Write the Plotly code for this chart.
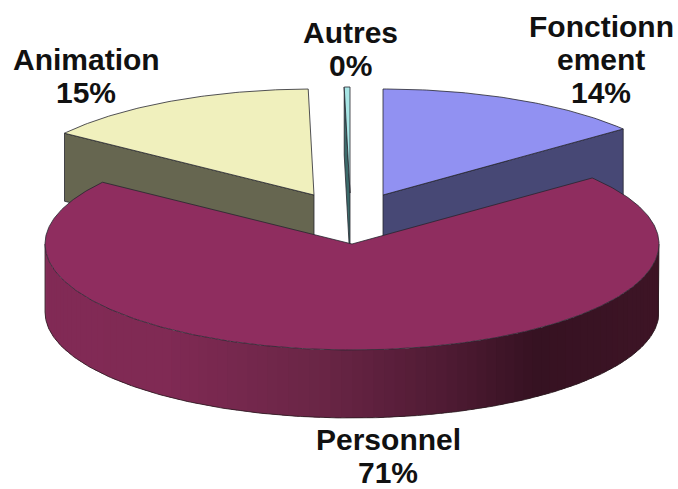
import numpy as np
import plotly.graph_objects as go

# --- data ---
categories = ["Fonctionnement", "Personnel", "Animation", "Autres"]
values = [14.3, 70.6, 14.8, 0.3]
label_lines = [["Fonctionn", "ement"], ["Personnel"], ["Animation"], ["Autres"]]

# --- styles / layout ---
W, H = 678, 489
RX, RY, DEPTH = 307, 106, 68
centers = {"Fonctionnement": (383, 195), "Personnel": (352, 244),
           "Animation": (314, 195), "Autres": (350, 193)}
face_col = {"Fonctionnement": "#9191f2", "Personnel": "#8f2d5f",
            "Animation": "#f0f0bd", "Autres": "#a8e6e6"}
cut_col = {"Fonctionnement": "#474875", "Personnel": "#8f2d5f",
           "Animation": "#666650", "Autres": "#3c6a6a"}
label_pos = {"Fonctionnement": (601, 26), "Personnel": (388, 439),
             "Animation": (86, 59), "Autres": (350, 32)}
LINE_H = 33
FONT = dict(family="Liberation Sans, Arial, sans-serif", size=30, color="#111111", weight="bold")
EDGE = dict(color="#26262e", width=0.8)
# gradient stops of the outer rim: (fraction across the width, rgb)
rim_stops = [(0.0, (130, 42, 86)), (0.2, (128, 42, 84)), (0.45, (106, 38, 70)),
             (0.65, (80, 27, 52)), (0.8, (54, 18, 34)), (1.0, (62, 21, 38))]

fig = go.Figure()


def pt(cat, deg, drop=0):
    cx, cy = centers[cat]
    t = np.radians(deg)
    return cx + RX * np.sin(t), cy - RY * np.cos(t) + drop


def arc(cat, a0, a1, drop=0, n=None):
    n = n or max(2, int(abs(a1 - a0) * 1.5))
    return pt(cat, np.linspace(a0, a1, n), drop)


def poly(x, y, fill, line=EDGE):
    x, y = list(x), list(y)
    fig.add_trace(go.Scatter(x=x + x[:1], y=y + y[:1], mode="lines", fill="toself",
                             fillcolor=fill, line=line, hoverinfo="skip"))


def rim_colour(f):
    xs = [s[0] for s in rim_stops]
    rgb = [np.interp(f, xs, [s[1][i] for s in rim_stops]) for i in range(3)]
    return "rgb(%d,%d,%d)" % tuple(rgb)


# slice angular spans, clockwise from the top
edges = np.concatenate([[0], np.cumsum(values)]) * 3.6
span = {c: (edges[i], edges[i + 1]) for i, c in enumerate(categories)}


def wedge(cat):
    a0, a1 = span[cat]
    cx, cy = centers[cat]
    ax, ay = arc(cat, a0, a1)
    poly(np.r_[cx, ax], np.r_[cy, ay], face_col[cat])


def cut_face(cat, deg):
    ex, ey = pt(cat, deg)
    cx, cy = centers[cat]
    poly([cx, ex, ex, cx], [cy, ey, ey + DEPTH, cy + DEPTH], cut_col[cat])


c = "Fonctionnement"
cut_face(c, span[c][1])
wedge(c)

c = "Animation"
cut_face(c, span[c][0])
wedge(c)

c = "Autres"
cut_face(c, span[c][0])
wedge(c)

# Personnel: gradient rim from overlapping strips, outline, then top
c = "Personnel"
a0, a1 = max(span[c][0], 90), min(span[c][1], 270)
steps = np.linspace(a0, a1, 91)
step = steps[1] - steps[0]
for s0 in steps[:-1]:
    ax, ay = arc(c, s0, min(s0 + 1.6 * step, a1), 0, 6)
    bx, by = arc(c, min(s0 + 1.6 * step, a1), s0, DEPTH, 6)
    f = (pt(c, s0 + step / 2)[0] - (centers[c][0] - RX)) / (2 * RX)
    # rim runs right to left as the angle grows; later strips cover earlier overlaps
    poly(np.r_[ax, bx], np.r_[ay, by], rim_colour(f), dict(color="rgba(0,0,0,0)", width=0))
ox, oy = arc(c, a0, a1, DEPTH)
tx0, ty0 = pt(c, a0)
tx1, ty1 = pt(c, a1)
fig.add_trace(go.Scatter(x=np.r_[tx0, ox, tx1], y=np.r_[ty0, oy, ty1], mode="lines",
                         line=dict(color="#2a1a20", width=0.8), hoverinfo="skip"))
wedge(c)

# labels
for cat, val, lines in zip(categories, values, label_lines):
    lx, ly = label_pos[cat]
    for i, txt in enumerate(lines + [f"{round(val)}%"]):
        fig.add_annotation(x=lx, y=ly + i * LINE_H, text=txt, showarrow=False,
                           font=FONT, xanchor="center", yanchor="middle")

fig.update_layout(width=W, height=H, margin=dict(l=0, r=0, t=0, b=0), showlegend=False,
                  paper_bgcolor="white", plot_bgcolor="white",
                  xaxis=dict(range=[0, W], visible=False, fixedrange=True),
                  yaxis=dict(range=[H, 0], visible=False, fixedrange=True))
fig.write_html("out.html", config={"displayModeBar": False},
               post_script="document.body.style.margin='0';document.body.style.overflow='hidden';")
